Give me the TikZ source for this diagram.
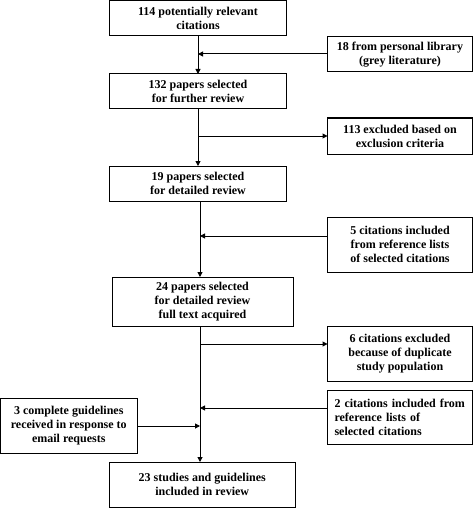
\documentclass[tikz,border=0pt]{standalone}
\usepackage{fontspec}
\setmainfont{Liberation Serif}
\usetikzlibrary{arrows.meta}
\tikzset{
  box/.style={draw, line width=1pt, align=center, inner sep=0pt, outer sep=0pt,
    font=\fontsize{12}{14}\selectfont\bfseries},
  ar/.style={-{Triangle[length=5pt,width=5pt]}, line width=1pt},
  ln/.style={line width=1pt}
}
\begin{document}
\begin{tikzpicture}[x=1pt,y=-1pt]
\useasboundingbox (0,0) rectangle (473,508);
\node[box, minimum width=177pt, minimum height=35.5pt] (b1) at (198,18.25) {114 potentially relevant\\citations};
\node[box, minimum width=145pt, minimum height=35.5pt] (lib) at (400,54.25) {18 from personal library\\(grey literature)};
\node[box, minimum width=177pt, minimum height=34.5pt] (b2) at (198,91.25) {132 papers selected\\for further review};
\node[box, minimum width=145pt, minimum height=36pt] (excl) at (400,136) {113 excluded based on\\exclusion criteria};
\node[box, minimum width=177pt, minimum height=35pt] (b3) at (198,183.5) {19 papers selected\\for detailed review};
\node[box, minimum width=145pt, minimum height=55pt] (five) at (400,244.5) {5 citations included\\from reference lists\\of selected citations};
\node[box, minimum width=181pt, minimum height=49pt] (b4) at (202.5,301.5) {24 papers selected\\for detailed review\\full text acquired};
\node[box, minimum width=145pt, minimum height=55pt] (six) at (400,353.5) {6 citations excluded\\because of duplicate\\study population};
\node[box, minimum width=145pt, minimum height=54pt, align=left, text width=131pt] (two) at (400,417) {2 citations included from\\reference lists of\\selected citations};
\node[box, minimum width=136.5pt, minimum height=55pt] (three) at (68.75,425.5) {3 complete guidelines\\received in response to\\email requests};
\node[box, minimum width=185.5pt, minimum height=45pt] (b5) at (202.25,484.5) {23 studies and guidelines\\included in review};
% vertical spine
\coordinate (u) at (198,0);
\coordinate (v) at (200,0);
\coordinate (jlib) at (198,54);
\coordinate (jexcl) at (198,136);
\coordinate (jfive) at (200,236);
\coordinate (jsix) at (200,344);
\coordinate (jtwo) at (200,408);
\coordinate (jthree) at (200,426);
\draw[ar] (b1.south -| u) -- (b2.north -| u);
\draw[ar] (b2.south -| u) -- (b3.north -| u);
\draw[ar] (b3.south -| v) -- (b4.north -| v);
\draw[ar] (b4.south -| v) -- (b5.north -| v);
% side arrows
\draw[ar] (lib.west |- jlib) -- (jlib);
\draw[ar] (jexcl) -- (excl.west |- jexcl);
\draw[ar] (five.west |- jfive) -- (jfive);
\draw[ar] (jsix) -- (six.west |- jsix);
\draw[ar] (two.west |- jtwo) -- (jtwo);
\draw[ar] (three.east |- jthree) -- (jthree);
\end{tikzpicture}
\end{document}
